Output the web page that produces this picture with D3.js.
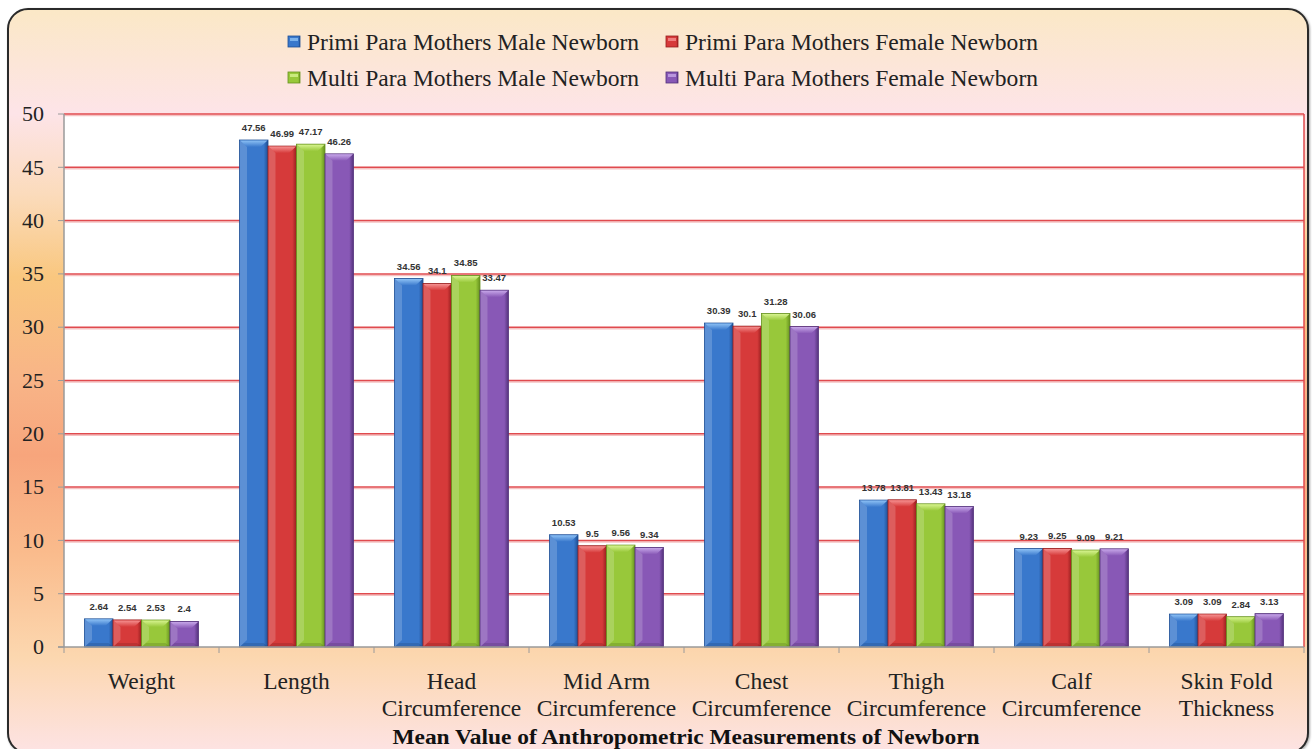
<!DOCTYPE html>
<html>
<head>
<meta charset="utf-8">
<script src="https://cdnjs.cloudflare.com/ajax/libs/d3/7.8.5/d3.min.js"></script>
<style>
  body { margin: 0; background: #fff; }
  svg { display: block; }
</style>
</head>
<body>
<div class="chart"></div>
<script>
// data
const categories = [
  ["Weight"], ["Length"], ["Head", "Circumference"], ["Mid Arm", "Circumference"],
  ["Chest", "Circumference"], ["Thigh", "Circumference"], ["Calf", "Circumference"],
  ["Skin Fold", "Thickness"]
];
const seriesNames = [
  "Primi Para Mothers Male Newborn", "Primi Para Mothers Female Newborn",
  "Multi Para Mothers Male Newborn", "Multi Para Mothers Female Newborn"
];
const primiMale   = [2.64, 47.56, 34.56, 10.53, 30.39, 13.78, 9.23, 3.09];
const primiFemale = [2.54, 46.99, 34.1, 9.5, 30.1, 13.81, 9.25, 3.09];
const multiMale   = [2.53, 47.17, 34.85, 9.56, 31.28, 13.43, 9.09, 2.84];
const multiFemale = [2.4, 46.26, 33.47, 9.34, 30.06, 13.18, 9.21, 3.13];
const yTicks = [0, 5, 10, 15, 20, 25, 30, 35, 40, 45, 50];
const title = "Mean Value of Anthropometric Measurements of Newborn";

const seriesValues = [primiMale, primiFemale, multiMale, multiFemale];
const colors = [
  {dark: "#1f4f94", base: "#3978cc", light: "#8cc0f4"},
  {dark: "#981f1f", base: "#d63a3a", light: "#f59090"},
  {dark: "#66921e", base: "#98c83a", light: "#d6f38e"},
  {dark: "#54327c", base: "#8858b6", light: "#c6a6e8"}
];
const serif = "'Liberation Serif', 'Times New Roman', serif";

const W = 1314, H = 749;
const margin = {top: 114, right: 10, bottom: 102, left: 64};
const width = 1304 - margin.left, height = 647 - margin.top;

const svg = d3.select(".chart").append("svg")
  .attr("width", W).attr("height", H);

const defs = svg.append("defs");
const bg = defs.append("linearGradient").attr("id", "bg")
  .attr("x1", 0).attr("y1", 0).attr("x2", 0).attr("y2", 1);
[[0, "#fbe8c6"], [0.14, "#fde4e8"], [0.25, "#fbdbbb"], [0.36, "#f9c77f"],
 [0.5, "#f8b487"], [0.6, "#f7a57c"], [0.73, "#fabb8c"], [0.87, "#fcd7af"], [1, "#fde3e4"]]
  .forEach(s => bg.append("stop").attr("offset", s[0]).attr("stop-color", s[1]));

colors.forEach((c, i) => {
  const g = defs.append("linearGradient").attr("id", "bar" + i)
    .attr("x1", 0).attr("y1", 0).attr("x2", 1).attr("y2", 0);
  [[0, c.base], [0.1, c.base], [0.85, c.base], [1, c.dark]]
    .forEach(s => g.append("stop").attr("offset", s[0]).attr("stop-color", s[1]));
  const t = defs.append("linearGradient").attr("id", "top" + i)
    .attr("x1", 0).attr("y1", 0).attr("x2", 0).attr("y2", 1);
  t.append("stop").attr("offset", 0).attr("stop-color", c.light);
  t.append("stop").attr("offset", 1).attr("stop-color", c.base);
});

const shadow = defs.append("filter").attr("id", "shadow")
  .attr("x", "-5%").attr("y", "-5%").attr("width", "110%").attr("height", "110%");
shadow.append("feDropShadow").attr("dx", 1).attr("dy", 1).attr("stdDeviation", 1.2)
  .attr("flood-color", "#000").attr("flood-opacity", 0.35);

// outer rounded frame
svg.append("rect")
  .attr("x", 8).attr("y", 9).attr("width", 1300).attr("height", 744)
  .attr("rx", 20).attr("ry", 20)
  .attr("fill", "url(#bg)").attr("stroke", "#2b2b2b").attr("stroke-width", 2)
  .attr("filter", "url(#shadow)");

const g = svg.append("g")
  .attr("transform", "translate(" + margin.left + "," + margin.top + ")");

const x0 = d3.scaleBand().domain(d3.range(categories.length)).range([0, width]);
const x1 = d3.scaleBand().domain(d3.range(seriesNames.length))
  .range([0, x0.bandwidth()]).paddingOuter(0.72);
const y = d3.scaleLinear().domain([0, 50]).range([height, 0]);

// plot area
g.append("rect").attr("width", width).attr("height", height).attr("fill", "#fff");

// gridlines
g.selectAll(".grid-shadow").data(yTicks.filter(d => d > 0)).join("line")
  .attr("x1", 0).attr("x2", width)
  .attr("y1", d => y(d) + 1.5).attr("y2", d => y(d) + 1.5)
  .attr("stroke", "#f5c2c2").attr("stroke-width", 1.5);
g.selectAll(".grid").data(yTicks.filter(d => d > 0)).join("line")
  .attr("x1", 0).attr("x2", width)
  .attr("y1", d => y(d)).attr("y2", d => y(d))
  .attr("stroke", "#e04a4e").attr("stroke-width", 1.5);
g.append("line").attr("x1", width).attr("x2", width).attr("y1", 0).attr("y2", height)
  .attr("stroke", "#e04a4e").attr("stroke-width", 1.5);

// bars
const bars = [];
seriesValues.forEach((vals, s) => vals.forEach((v, c) => bars.push({s, c, v})));

const bar = g.selectAll(".bar").data(bars).join("g")
  .attr("transform", d => `translate(${x0(d.c) + x1(d.s)},0)`);
const bw = x1.bandwidth();
bar.append("rect")
  .attr("y", d => y(d.v)).attr("width", bw).attr("height", d => height - y(d.v))
  .attr("fill", d => `url(#bar${d.s})`)
  .attr("stroke", d => colors[d.s].dark).attr("stroke-width", 0.8);
// top bevel
bar.append("path")
  .attr("d", d => {
    const t = y(d.v), b = Math.min(7, (height - t) / 2);
    return `M0.5,${t + 0.5}L${bw - 0.5},${t + 0.5}L${bw - 0.5 - b},${t + b}L${0.5 + b},${t + b}Z`;
  })
  .attr("fill", d => `url(#top${d.s})`);
// left edge highlight
bar.append("path")
  .attr("d", d => {
    const t = y(d.v), b = Math.min(7, (height - t) / 2);
    return `M0.5,${t + 0.5}L${0.5 + b},${t + b}L${0.5 + b},${height - b}L0.5,${height - 0.5}Z`;
  })
  .attr("fill", "#fff").attr("fill-opacity", 0.18);
// bottom edge shade
bar.append("path")
  .attr("d", d => {
    const t = y(d.v), b = Math.min(4, (height - t) / 3);
    return `M0.5,${height - 0.5}L${bw - 0.5},${height - 0.5}L${bw - 0.5 - b},${height - b}L${0.5 + b},${height - b}Z`;
  })
  .attr("fill", "#000").attr("fill-opacity", 0.12);

// data labels
bar.append("text")
  .attr("x", bw / 2).attr("y", d => y(d.v) - 9)
  .attr("text-anchor", "middle")
  .attr("font-family", "'Liberation Sans Narrow', 'Arial Narrow', 'Liberation Sans', sans-serif")
  .attr("font-size", 9.5).attr("font-weight", "bold").attr("fill", "#333")
  .text(d => d.v);

// axes
const axisColor = "#9a9a9a";
g.append("line").attr("x1", 0).attr("x2", 0).attr("y1", 0).attr("y2", height)
  .attr("stroke", axisColor).attr("stroke-width", 1.5);
g.append("line").attr("x1", -6).attr("x2", width).attr("y1", height).attr("y2", height)
  .attr("stroke", axisColor).attr("stroke-width", 1.5);
g.selectAll(".ytick").data(yTicks).join("line")
  .attr("x1", -6).attr("x2", 0).attr("y1", d => y(d)).attr("y2", d => y(d))
  .attr("stroke", axisColor);
g.selectAll(".ylbl").data(yTicks).join("text")
  .attr("x", -20).attr("y", d => y(d)).attr("dy", "0.33em")
  .attr("text-anchor", "end")
  .attr("font-family", serif)
  .attr("font-size", 22).attr("fill", "#222")
  .text(d => d);
g.selectAll(".xtick").data(d3.range(categories.length + 1)).join("line")
  .attr("x1", d => d * x0.step()).attr("x2", d => d * x0.step())
  .attr("y1", height).attr("y2", height + 6)
  .attr("stroke", axisColor);

// the reference text is a little wider than the font, so stretch it slightly
const xl = g.selectAll(".xlbl").data(categories).join("text")
  .attr("text-anchor", "middle")
  .attr("font-family", serif)
  .attr("font-size", 22.5).attr("fill", "#222")
  .attr("transform", (d, i) => `translate(${x0(i) + x0.bandwidth() / 2},${height + 42}) scale(1.045,1)`);
xl.selectAll("tspan").data(d => d).join("tspan")
  .attr("x", 0).attr("dy", (d, i) => i === 0 ? 0 : 27)
  .text(d => d);

// title
svg.append("text")
  .attr("transform", "translate(686,744) scale(1.065,1)")
  .attr("text-anchor", "middle")
  .attr("font-family", serif)
  .attr("font-size", 22).attr("font-weight", "bold").attr("fill", "#111")
  .text(title);

// legend
const legendPos = [[288, 42], [666, 42], [288, 78], [666, 78]];
const leg = svg.selectAll(".legend").data(seriesNames).join("g")
  .attr("transform", (d, i) => `translate(${legendPos[i][0]},${legendPos[i][1]})`);
leg.append("rect")
  .attr("x", 0).attr("y", -6).attr("width", 12).attr("height", 11)
  .attr("fill", (d, i) => `url(#bar${i})`)
  .attr("stroke", (d, i) => colors[i].dark).attr("stroke-width", 0.8);
leg.append("rect")
  .attr("x", 2).attr("y", -4).attr("width", 8).attr("height", 3)
  .attr("fill", (d, i) => colors[i].light).attr("fill-opacity", 0.8);
leg.append("text")
  .attr("transform", "translate(19,0) scale(1.047,1)")
  .attr("dy", "0.35em")
  .attr("font-family", serif)
  .attr("font-size", 22.5).attr("fill", "#222")
  .text(d => d);
</script>
</body>
</html>
